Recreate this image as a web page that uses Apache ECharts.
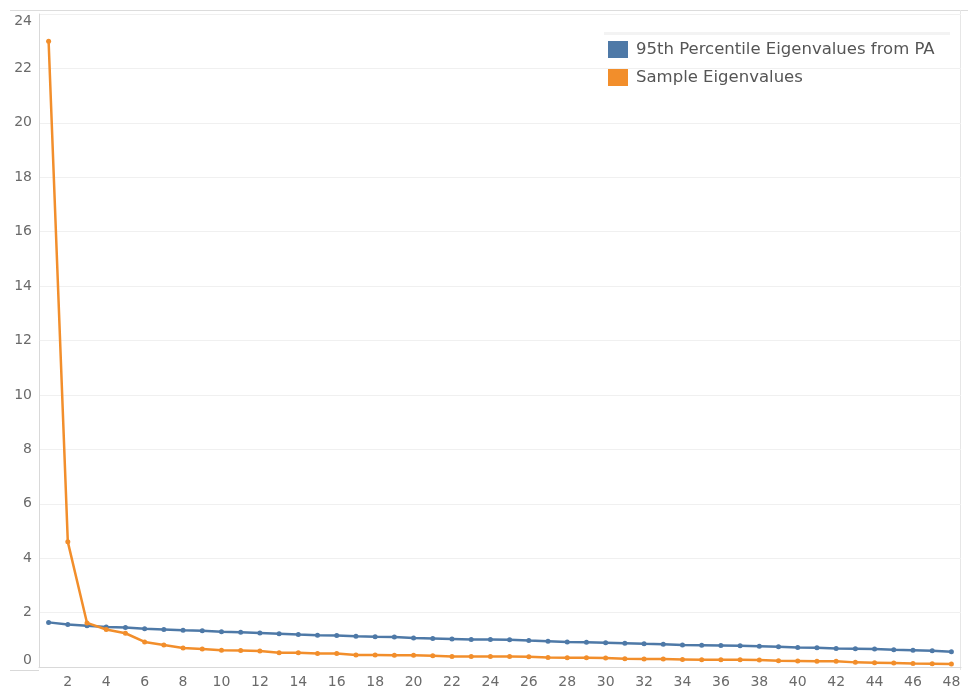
<!DOCTYPE html>
<html>
<head>
<meta charset="utf-8">
<script src="https://cdn.jsdelivr.net/npm/echarts@6/dist/echarts.min.js"></script>
<style>
html,body{margin:0;padding:0;background:#fff;}
#chart{width:968px;height:689px;}
</style>
</head>
<body>
<div id="chart"></div>
<script>
const components = [1,2,3,4,5,6,7,8,9,10,11,12,13,14,15,16,17,18,19,20,21,22,23,24,25,26,27,28,29,30,31,32,33,34,35,36,37,38,39,40,41,42,43,44,45,46,47,48];
const paEigenvalues = [1.64,1.56,1.52,1.47,1.45,1.41,1.38,1.35,1.33,1.30,1.28,1.25,1.22,1.19,1.17,1.16,1.13,1.11,1.10,1.07,1.05,1.03,1.01,1.01,1.00,0.97,0.95,0.92,0.91,0.89,0.87,0.85,0.84,0.81,0.80,0.79,0.78,0.76,0.74,0.72,0.71,0.68,0.67,0.66,0.63,0.62,0.60,0.56];
const sampleEigenvalues = [23.0,4.60,1.62,1.38,1.24,0.92,0.81,0.70,0.66,0.62,0.61,0.59,0.52,0.52,0.50,0.50,0.44,0.44,0.43,0.43,0.41,0.39,0.39,0.39,0.39,0.38,0.35,0.34,0.34,0.33,0.30,0.29,0.29,0.28,0.27,0.27,0.27,0.26,0.23,0.22,0.21,0.21,0.17,0.16,0.15,0.13,0.12,0.11];
const seriesNames = ['95th Percentile Eigenvalues from PA','Sample Eigenvalues'];
const yTicks = {min:0, max:24, interval:2};

const chart = echarts.init(document.getElementById('chart'));
const FONT = '"DejaVu Sans", "Noto Sans", sans-serif';
chart.setOption({
  animation:false,
  backgroundColor:'#ffffff',
  grid:{left:39, right:7, top:14, bottom:19, containLabel:false},
  legend:{
    left:608, top:41, padding:0, orient:'vertical', icon:'rect',
    itemWidth:20, itemHeight:17, itemGap:11,
    textStyle:{color:'#555', fontSize:16.5, fontFamily:FONT, padding:[2,0,0,3]},
    data:seriesNames
  },
  xAxis:{
    type:'category', data:components, boundaryGap:true,
    axisLine:{show:true, lineStyle:{color:'#d9d9d9', width:1}},
    axisTick:{show:false},
    axisLabel:{color:'#6a6a6a', fontSize:14, fontFamily:FONT, margin:8,
      interval:function(i){return i%2===1;}},
    splitLine:{show:false}
  },
  yAxis:{
    type:'value', min:yTicks.min, max:yTicks.max, interval:yTicks.interval,
    axisLine:{show:true, lineStyle:{color:'#d9d9d9', width:1}},
    axisTick:{show:false},
    axisLabel:{color:'#6a6a6a', fontSize:14, fontFamily:FONT, margin:7,
      verticalAlignMinLabel:'bottom', verticalAlignMaxLabel:'top'},
    splitLine:{show:true, lineStyle:{color:'#f0f0f0', width:1}}
  },
  graphic:[
    {type:'line', shape:{x1:10,y1:10.5,x2:968,y2:10.5}, style:{stroke:'#dcdcdc', lineWidth:1}, silent:true},
    {type:'line', shape:{x1:10,y1:670.5,x2:39,y2:670.5}, style:{stroke:'#d9d9d9', lineWidth:1}, silent:true},
    {type:'line', shape:{x1:960.5,y1:10,x2:960.5,y2:670}, style:{stroke:'#e6e6e6', lineWidth:1}, silent:true},
    {type:'rect', shape:{x:604,y:32,width:346,height:56}, style:{fill:'#ffffff'}, z:-1, silent:true},
    {type:'rect', shape:{x:604,y:32,width:346,height:3}, style:{fill:'#f3f3f3'}, z:-1, silent:true}
  ],
  series:[
    {name:seriesNames[0], type:'line', data:paEigenvalues, color:'#4e79a7',
      symbol:'circle', symbolSize:5, showSymbol:true,
      lineStyle:{width:2.5}, z:2},
    {name:seriesNames[1], type:'line', data:sampleEigenvalues, color:'#f28e2b',
      symbol:'circle', symbolSize:5, showSymbol:true,
      lineStyle:{width:2.5}, z:3}
  ]
});
</script>
</body>
</html>
